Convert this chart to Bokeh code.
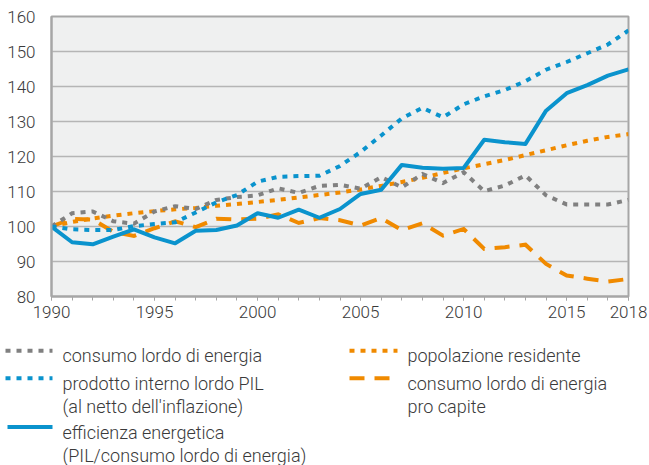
from bokeh.plotting import figure
from bokeh.models import FixedTicker, Range1d
from bokeh.core.properties import value
from bokeh.embed import file_html
from bokeh.resources import INLINE

# ---------------- data ----------------
years = list(range(1990, 2019))
consumo = [100, 103.8, 104.3, 101.5, 100.8, 104.3, 105.8, 105.0, 107.6, 108.4,
           108.9, 110.9, 109.6, 111.6, 111.9, 110.8, 114.1, 111.2, 115.0, 112.4,
           115.5, 110.1, 111.7, 114.6, 108.9, 106.3, 106.3, 106.3, 107.6]
pil = [100, 99.2, 99.0, 99.0, 100.1, 100.7, 101.2, 104.0, 106.9, 109.0,
       112.8, 114.2, 114.4, 114.5, 117.3, 121.3, 126.0, 130.9, 133.9, 131.2,
       134.9, 137.2, 139.0, 141.5, 144.8, 147.0, 149.5, 152.0, 156.0]
efficienza = [100, 95.5, 94.9, 97.1, 99.2, 96.9, 95.2, 98.8, 99.0, 100.3,
              103.8, 102.5, 104.8, 102.5, 105.0, 109.3, 110.5, 117.6, 116.8, 116.5,
              116.7, 124.8, 124.1, 123.6, 133.1, 138.1, 140.4, 143.1, 144.9]
popolazione = [100, 101.3, 102.3, 103.1, 103.8, 104.4, 104.9, 105.3, 105.9, 106.4,
               107.0, 107.6, 108.3, 109.0, 109.7, 110.6, 111.6, 112.7, 113.9, 115.3,
               116.6, 117.8, 119.0, 120.4, 121.8, 123.2, 124.5, 125.6, 126.4]
procapite = [100, 102.2, 102.0, 98.5, 97.3, 99.5, 101.5, 99.8, 102.2, 102.0,
             102.2, 103.5, 101.0, 102.4, 101.8, 100.3, 102.4, 99.0, 100.9, 97.4,
             99.3, 93.6, 94.1, 94.8, 89.3, 86.0, 85.1, 84.3, 85.0]

x_ticks = [1990, 1995, 2000, 2005, 2010, 2015, 2018]
y_ticks = [80, 90, 100, 110, 120, 130, 140, 150, 160]

legend_labels = [
    ["consumo lordo di energia"],
    ["prodotto interno lordo PIL", "(al netto dell'inflazione)"],
    ["efficienza energetica", "(PIL/consumo lordo di energia)"],
    ["popolazione residente"],
    ["consumo lordo di energia", "pro capite"],
]

# ---------------- styles ----------------
FONT = "Roboto Light"
TXT = "#3a3a3a"
AX = "#a6a6a6"
GRAY = "#808080"
BLUE = "#0a93cd"
ORANGE = "#f08a00"
DOT = "5 6"
DASH = "15 10"

series = [
    (popolazione, ORANGE, DOT),
    (procapite, ORANGE, DASH),
    (consumo, GRAY, DOT),
    (pil, BLUE, DOT),
    (efficienza, BLUE, "solid"),
]

p = figure(width=649, height=338, x_range=Range1d(1990, 2018), y_range=Range1d(80, 160),
           output_backend="svg", toolbar_location=None,
           min_border_left=51, min_border_right=21, min_border_top=16, min_border_bottom=42)
p.background_fill_color = "#eff0f0"
p.border_fill_color = "white"
p.outline_line_color = AX
p.outline_line_width = 2
p.xgrid.visible = False
p.ygrid.ticker = FixedTicker(ticks=y_ticks)
p.ygrid.grid_line_color = "#b5b5b5"
p.ygrid.grid_line_width = 1.5

p.xaxis.ticker = FixedTicker(ticks=x_ticks, minor_ticks=years)
p.yaxis.ticker = FixedTicker(ticks=y_ticks)
for ax in (p.xaxis[0], p.yaxis[0]):
    ax.axis_line_color = AX
    ax.axis_line_width = 2
    ax.major_label_text_font = FONT
    ax.major_label_text_font_size = "17px"
    ax.major_label_text_color = TXT
    ax.major_tick_in = 0
    ax.minor_tick_in = 0
p.xaxis.major_tick_line_color = AX
p.xaxis.minor_tick_line_color = AX
p.xaxis.major_tick_out = 4
p.xaxis.minor_tick_out = 4
p.xaxis.major_label_standoff = 5
p.yaxis.major_tick_out = 0
p.yaxis.major_tick_line_color = None
p.yaxis.minor_tick_line_color = None
p.yaxis.major_label_standoff = 16

for vals, col, dash in series:
    p.line(years, vals, line_color=col, line_width=4, line_dash=dash, line_cap="butt",
           line_join="round" if dash == "solid" else "miter")

# ---------------- legend (its own canvas, pixel coordinates, y downwards) ----------------
lg = figure(width=649, height=127, x_range=Range1d(0, 649), y_range=Range1d(127, 0),
            output_backend="svg", toolbar_location=None, x_axis_type=None, y_axis_type=None,
            min_border=0)
lg.outline_line_color = None
lg.grid.visible = False

leg_style = [(GRAY, DOT), (BLUE, DOT), (BLUE, "solid"), (ORANGE, DOT), (ORANGE, DASH)]
leg_pos = [  # (sample x0, sample x1, text x, sample y, first baseline y)
    (5, 52, 62, 12.3, 17),
    (5, 52, 62, 39.7, 44.5),
    (7, 52, 62, 88.5, 94),
    (349, 397, 407, 12.3, 17),
    (349, 397, 407, 39.7, 44.5),
]
for (col, dash), (x0, x1, tx, sy, by), lines in zip(leg_style, leg_pos, legend_labels):
    lg.line([x0, x1], [sy, sy], line_color=col, line_width=4, line_dash=dash, line_cap="butt")
    lg.text(x=[tx] * len(lines), y=[by + 23 * i for i in range(len(lines))], text=lines,
            text_font=value(FONT), text_font_size="18px", text_color=TXT,
            text_baseline="alphabetic", text_align="left")

open("out.html", "w").write(file_html([p, lg], INLINE))
